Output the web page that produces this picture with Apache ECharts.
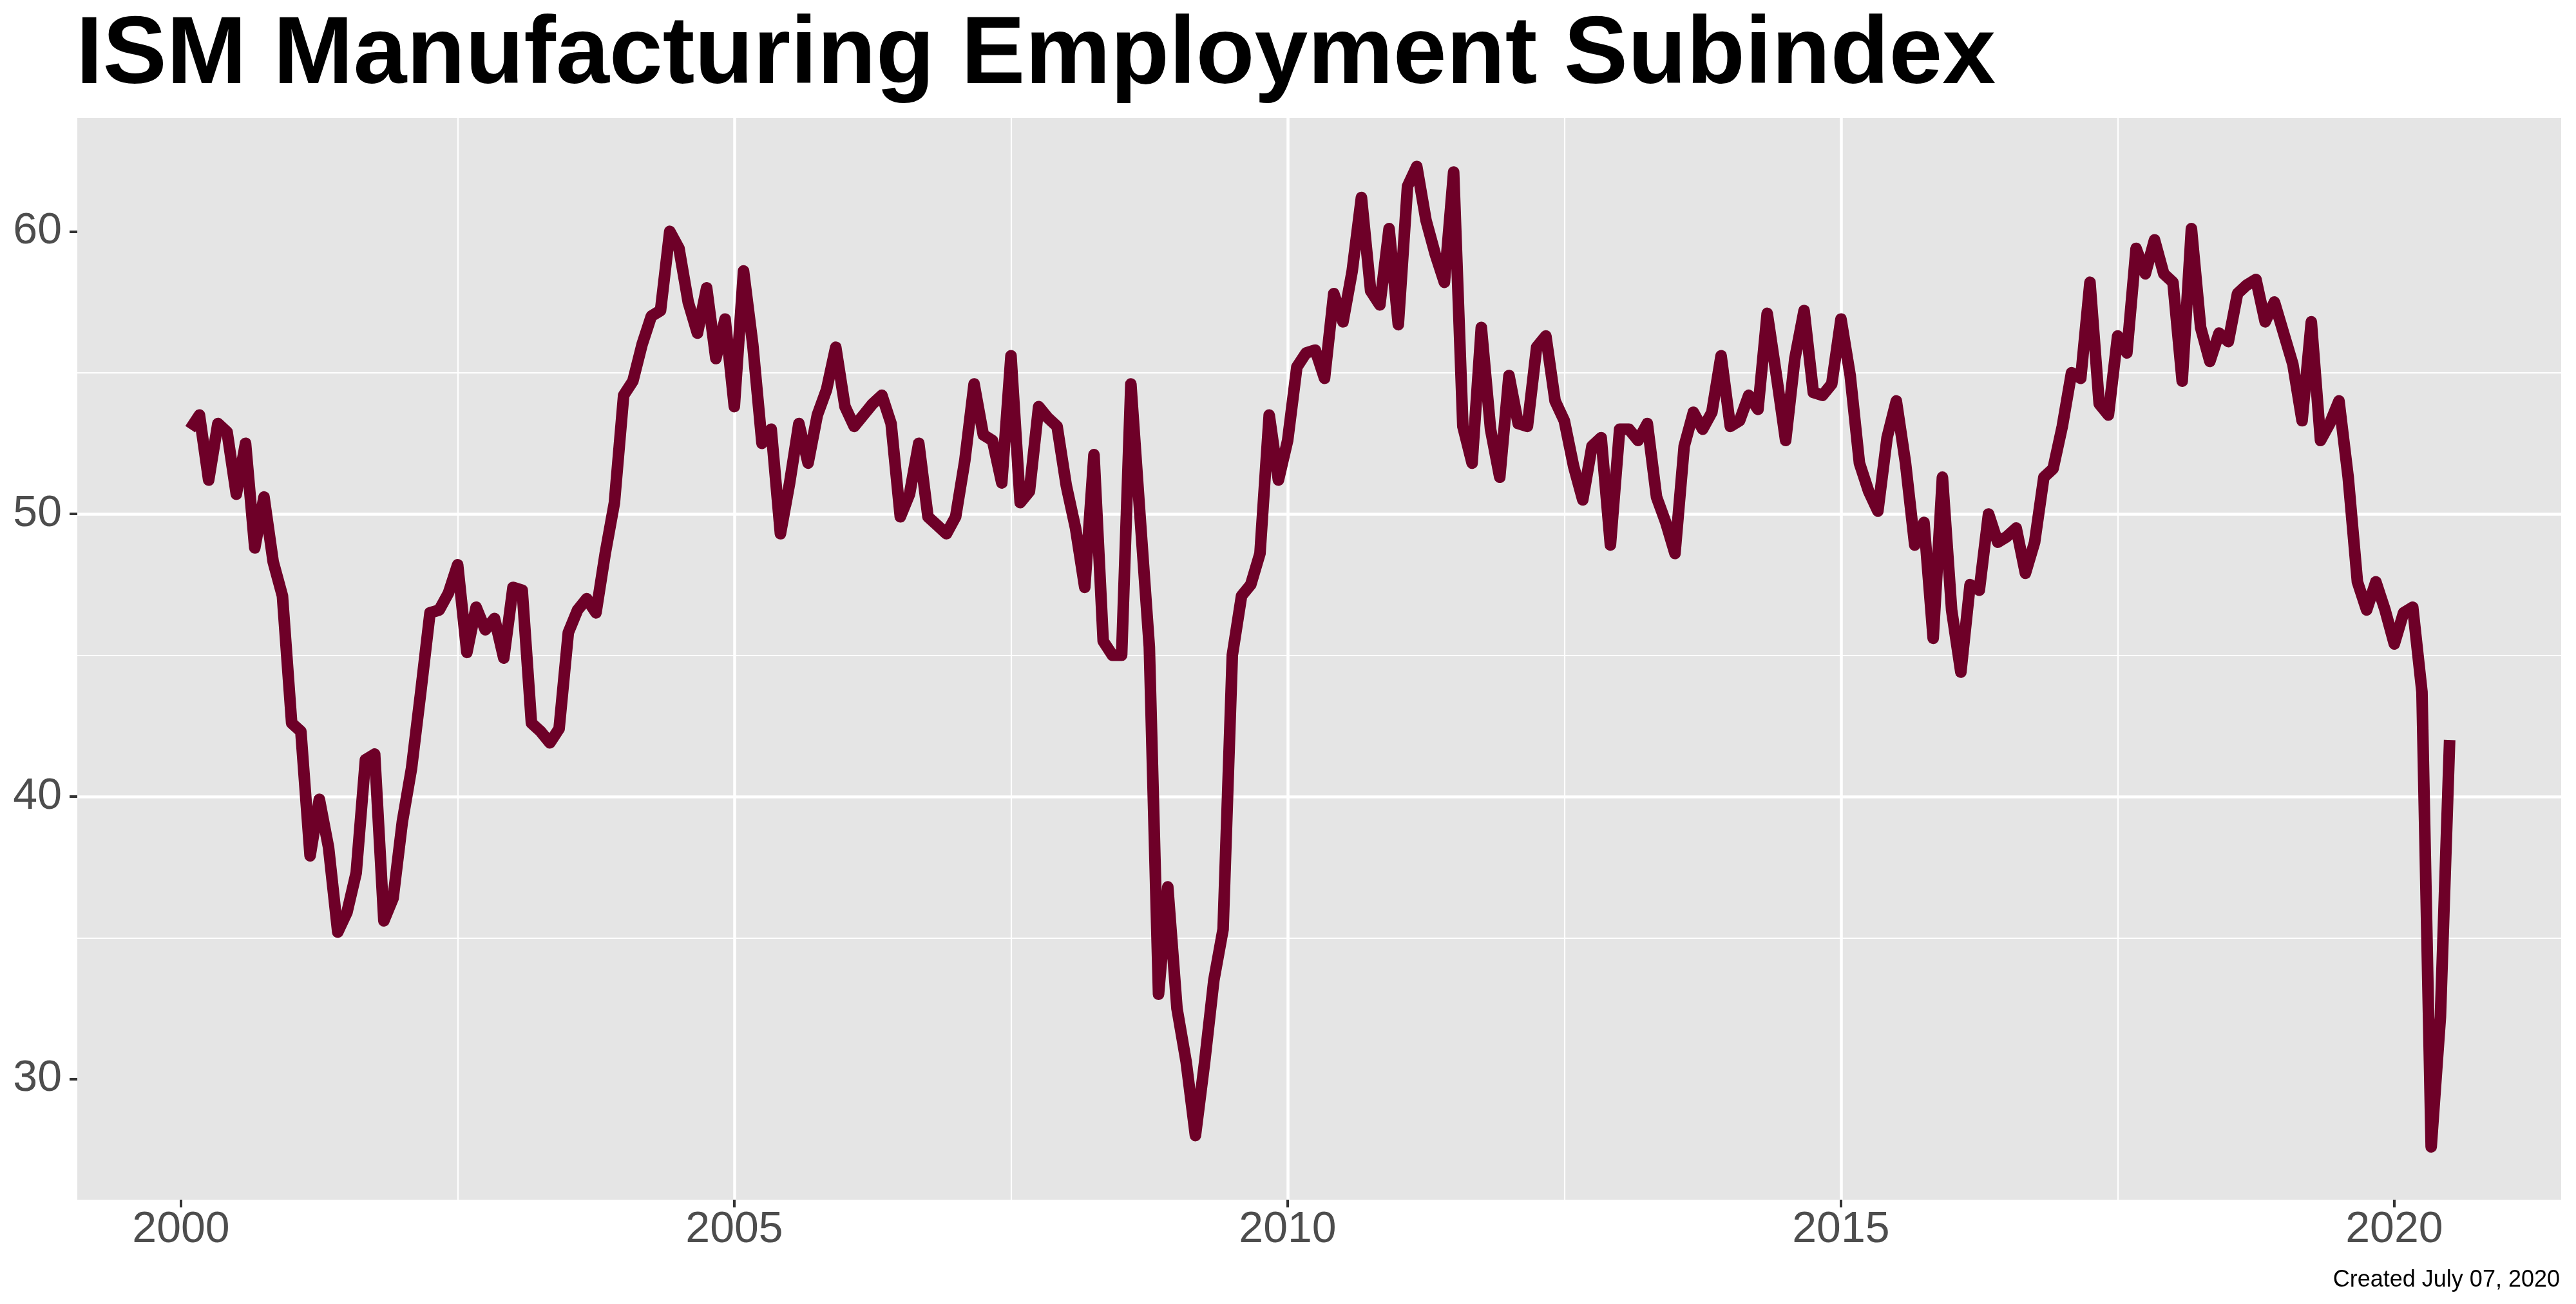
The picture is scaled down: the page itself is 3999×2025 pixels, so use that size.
<!DOCTYPE html>
<html>
<head>
    <meta http-equiv="Content-Type" content="text/html; charset=UTF-8">
    <title>ISM Manufacturing Employment Subindex</title>
    <style type="text/css">
        body{
            margin:0;
            padding:0;
            background-color:white;
        }
        #main{
            width:3999px;
            height:2025px;
        }
    </style>
</head>
<body>
<div id="main"></div>
<script src="https://cdn.jsdelivr.net/npm/echarts@6/dist/echarts.min.js"></script>
<script type="text/javascript">

    // monthly readings, Jan 2000 .. Jun 2020
    var startYear = 2000;
    var values = [
        53.0, 53.5, 51.2, 53.2, 52.9, 50.7, 52.5, 48.8, 50.6, 48.3, 47.1, 42.6,
        42.3, 37.9, 39.9, 38.2, 35.2, 35.9, 37.3, 41.3, 41.5, 35.6, 36.4, 39.1,
        41.0, 43.7, 46.5, 46.6, 47.2, 48.2, 45.1, 46.7, 45.9, 46.3, 44.9, 47.4,
        47.3, 42.6, 42.3, 41.9, 42.4, 45.8, 46.6, 47.0, 46.5, 48.6, 50.4, 54.2,
        54.7, 56.0, 57.0, 57.2, 60.0, 59.4, 57.5, 56.4, 58.0, 55.5, 56.9, 53.8,
        58.6, 56.0, 52.5, 53.0, 49.3, 51.1, 53.2, 51.8, 53.5, 54.4, 55.9, 53.8,
        53.1, 53.5, 53.9, 54.2, 53.2, 49.9, 50.7, 52.5, 49.9, 49.6, 49.3, 49.9,
        51.9, 54.6, 52.8, 52.6, 51.1, 55.6, 50.4, 50.8, 53.8, 53.4, 53.1, 51.0,
        49.5, 47.4, 52.1, 45.5, 45.0, 45.0, 54.6, 49.9, 45.3, 33.0, 36.8, 32.5,
        30.6, 28.0, 30.6, 33.5, 35.3, 45.0, 47.1, 47.5, 48.6, 53.5, 51.2, 52.6,
        55.2, 55.7, 55.8, 54.8, 57.8, 56.8, 58.6, 61.2, 57.9, 57.4, 60.1, 56.7,
        61.6, 62.3, 60.4, 59.2, 58.2, 62.1, 53.1, 51.8, 56.6, 53.0, 51.3, 54.9,
        53.2, 53.1, 55.9, 56.3, 54.0, 53.3, 51.7, 50.5, 52.4, 52.7, 48.9, 53.0,
        53.0, 52.6, 53.2, 50.6, 49.7, 48.6, 52.4, 53.6, 53.0, 53.6, 55.6, 53.1,
        53.3, 54.2, 53.7, 57.1, 54.9, 52.6, 55.5, 57.2, 54.3, 54.2, 54.6, 56.9,
        54.9, 51.8, 50.8, 50.1, 52.7, 54.0, 51.8, 48.9, 49.7, 45.6, 51.3, 46.6,
        44.4, 47.5, 47.3, 50.0, 49.0, 49.2, 49.5, 47.9, 49.0, 51.3, 51.6, 53.1,
        55.0, 54.8, 58.2, 53.9, 53.5, 56.3, 55.7, 59.4, 58.5, 59.7, 58.5, 58.2,
        54.7, 60.1, 56.6, 55.4, 56.4, 56.1, 57.8, 58.1, 58.3, 56.8, 57.5, 56.4,
        55.3, 53.3, 56.8, 52.6, 53.2, 54.0, 51.3, 47.6, 46.6, 47.6, 46.6, 45.4,
        46.5, 46.7, 43.7, 27.6, 32.2, 42.0
    ];
    var xBreaks = [2000, 2005, 2010, 2015, 2020];
    var yBreaks = [30, 40, 50, 60];

    // each month sits at its end, like the source plot
    var points = values.map(function(v, i) {
        return [startYear + (i + 1) / 12, v];
    });

    var font = '"Liberation Sans", Arial, Helvetica, sans-serif';
    var myChart = echarts.init(document.getElementById('main'), null, {renderer: 'canvas'});

    var option = {
        animation: false,
        backgroundColor: '#ffffff',
        title: [
            {
                text: 'ISM Manufacturing Employment Subindex',
                left: 118,
                top: 13,
                padding: 0,
                textStyle: {
                    fontFamily: font,
                    fontSize: 149,
                    lineHeight: 149,
                    fontWeight: 'bold',
                    color: '#000000'
                }
            },
            {
                text: 'Created July 07, 2020',
                right: 25,
                top: 1970,
                padding: 0,
                textStyle: {
                    fontFamily: font,
                    fontSize: 36,
                    lineHeight: 36,
                    fontWeight: 'normal',
                    color: '#000000'
                }
            }
        ],
        grid: {
            left: 120,
            right: 23,
            top: 183,
            bottom: 162,
            show: true,
            backgroundColor: '#E5E5E5',
            borderWidth: 0
        },
        xAxis: {
            type: 'value',
            min: 1999.063,
            max: 2021.508,
            splitNumber: 5,
            axisLine: {show: false},
            axisTick: {
                show: true,
                customValues: xBreaks,
                length: 12,
                lineStyle: {color: '#333333', width: 4}
            },
            axisLabel: {
                margin: 13,
                fontFamily: font,
                fontSize: 68,
                color: '#4D4D4D',
                formatter: function(v) {
                    return xBreaks.indexOf(Math.round(v * 1000) / 1000) >= 0 ? String(v) : '';
                }
            },
            splitLine: {
                show: true,
                showMinLine: false,
                showMaxLine: false,
                lineStyle: {color: '#ffffff', width: 4.5}
            },
            minorTick: {show: false, splitNumber: 2},
            minorSplitLine: {
                show: true,
                lineStyle: {color: '#ffffff', width: 2.2}
            }
        },
        yAxis: {
            type: 'value',
            min: 25.73,
            max: 64.02,
            splitNumber: 5,
            axisLine: {show: false},
            axisTick: {
                show: true,
                customValues: yBreaks,
                length: 12,
                lineStyle: {color: '#333333', width: 4}
            },
            axisLabel: {
                margin: 24,
                fontFamily: font,
                fontSize: 68,
                color: '#4D4D4D',
                formatter: function(v) {
                    return yBreaks.indexOf(Math.round(v * 1000) / 1000) >= 0 ? String(v) : '';
                }
            },
            splitLine: {
                show: true,
                showMinLine: false,
                showMaxLine: false,
                lineStyle: {color: '#ffffff', width: 4.5}
            },
            minorTick: {show: false, splitNumber: 2},
            minorSplitLine: {
                show: true,
                lineStyle: {color: '#ffffff', width: 2.2}
            }
        },
        series: [
            {
                name: 'Employment',
                type: 'line',
                data: points,
                showSymbol: false,
                symbol: 'none',
                smooth: false,
                clip: true,
                lineStyle: {
                    color: '#6E0028',
                    width: 18,
                    join: 'round',
                    cap: 'butt'
                }
            }
        ]
    };
    myChart.setOption(option);
</script>
</body>
</html>
